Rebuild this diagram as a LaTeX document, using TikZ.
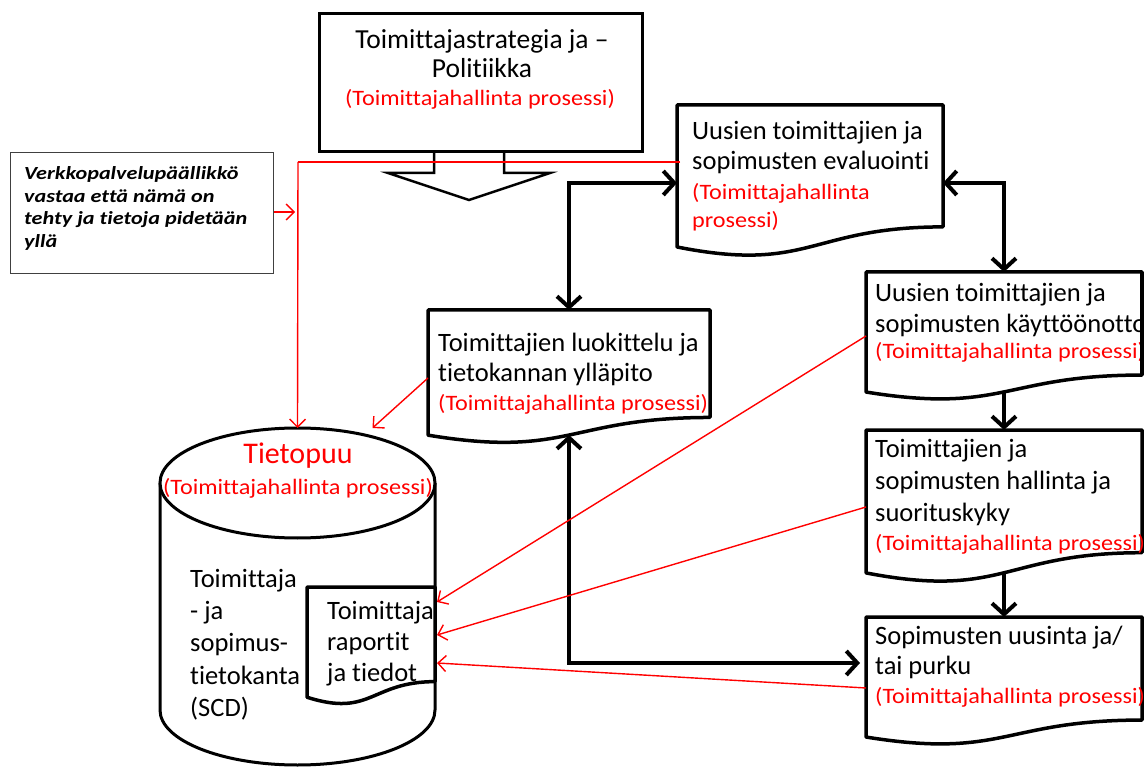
\documentclass[tikz,border=0pt]{standalone}
\usepackage{fontspec}
\setmainfont{Carlito}[Ligatures=CommonOff]
\newfontfamily\redfont{Carlito}[FakeStretch=1.1,Ligatures=CommonOff]
\newfontfamily\notefont{Carlito}[FakeStretch=1.2,Ligatures=CommonOff]
\usetikzlibrary{arrows.meta,calc,shapes.geometric}

% document shape (flowchart "document"): name, left, top, right, bottom of full height
\newcommand{\docbox}[5]{%
  \pgfmathsetmacro\dH{#5-#3}%
  \pgfmathsetmacro\yR{#3+0.802*\dH}%
  \pgfmathsetmacro\yL{#3+0.934*\dH}%
  \pgfmathsetmacro\yC{#3+1.108*\dH}%
  \pgfmathsetmacro\xM{(#2+#4)/2}%
  \pgfmathsetmacro\nW{#4-#2}%
  \pgfmathsetmacro\nH{0.933*\dH}%
  \draw[docline] (#2,#3) -- (#4,#3) -- (#4,\yR) .. controls (\xM,\yR) and (\xM,\yC) .. (#2,\yL) -- cycle;
  \node[anchor=north west, inner sep=0, outer sep=0, minimum width=\nW pt, minimum height=\nH pt] (#1) at (#2,#3) {};
}

\begin{document}
\begin{tikzpicture}[x=1pt,y=-1pt,
  docline/.style={draw, line width=3.5pt, line join=round, fill=white},
  blk/.style={line width=4pt, -{Straight Barb[length=11pt,width=24pt]}},
  blkboth/.style={line width=4pt, {Straight Barb[length=11pt,width=24pt]}-{Straight Barb[length=11pt,width=24pt]}},
  redln/.style={draw=red, line width=1.4pt},
  redarr/.style={redln, -{Straight Barb[length=8pt,width=16pt]}},
  bl/.style={font=\fontsize{26.5}{30}\selectfont, align=left, inner sep=0, anchor=north west},
  rd/.style={text=red, font=\redfont\fontsize{22}{28}\selectfont, align=left, inner sep=0, anchor=north west},
]
\useasboundingbox (0,0) rectangle (1144,767);
\clip (0,0) rectangle (1144,767);

% hollow down arrow under the strategy box
\draw[line width=2.5pt, line join=miter, fill=white]
  (434,148) -- (434,173) -- (388,173) -- (469,200) -- (550,173) -- (504,173) -- (504,148);

% strategy box
\node[draw, line width=3pt, fill=white, anchor=north west, inner sep=0,
      minimum width=323pt, minimum height=138pt] (strat) at (318,12) {};
\node[font=\fontsize{27.5}{29.5}\selectfont, align=center, inner sep=0, anchor=north] (strat-t)
  at (482,29) {Toimittajastrategia ja –\\Politiikka};
\node[rd, anchor=north] (strat-r) at (480,89) {(Toimittajahallinta prosessi)};

% responsibility note
\node[draw=black!75, line width=1pt, anchor=north west, inner sep=0,
      minimum width=263pt, minimum height=121pt] (note) at (10,152) {};
\node[font=\notefont\fontsize{18.5}{22.5}\selectfont\bfseries\itshape, align=left, inner sep=0, anchor=north west]
  (note-t) at (24,166.7) {Verkkopalvelupäällikkö\\vastaa että nämä on\\tehty ja tietoja pidetään\\yllä};

% process documents
\docbox{ev}{677}{105}{943}{257}
\node[bl] (ev-t) at (692,121) {Uusien toimittajien ja\\sopimusten evaluointi};
\node[rd] (ev-r) at (692,183.5) {(Toimittajahallinta\\prosessi)};

\docbox{lu}{428}{310}{710}{444}
\node[bl] (lu-t) at (438,333) {Toimittajien luokittelu ja\\tietokannan ylläpito};
\node[rd] (lu-r) at (438,394.5) {(Toimittajahallinta prosessi)};

\docbox{kay}{866}{272}{1142}{400.5}
\node[bl, font=\fontsize{26.5}{31}\selectfont] (kay-t) at (875,283) {Uusien toimittajien ja\\sopimusten käyttöönotto};
\node[rd] (kay-r) at (875,342.5) {(Toimittajahallinta prosessi)};
\draw[line width=3.5pt] (1142,272) -- (1142,375);

\docbox{hall}{866}{430}{1142}{583}
\node[bl, font=\fontsize{26.5}{32}\selectfont] (hall-t) at (875,439) {Toimittajien ja\\sopimusten hallinta ja\\suorituskyky};
\node[rd] (hall-r) at (875,534.5) {(Toimittajahallinta prosessi)};

\docbox{uus}{866}{617}{1142}{745.5}
\node[bl] (uus-t) at (875,626) {Sopimusten uusinta ja/\\tai purku};
\node[rd] (uus-r) at (875,687.5) {(Toimittajahallinta prosessi)};

% database cylinder
\draw[line width=3pt, fill=white] (160,483) -- (160,710)
  arc[start angle=180, end angle=360, x radius=137.5pt, y radius=55pt] -- (435,483);
\node[draw, ellipse, line width=3pt, fill=white, inner sep=0, outer sep=0,
      minimum width=275pt, minimum height=110pt] (db) at (297.5,483) {};
\node[text=red, font=\fontsize{30}{36}\selectfont, inner sep=0] (db-t) at (298,456) {Tietopuu};
\node[rd, anchor=center] (db-r) at (298,488) {(Toimittajahallinta prosessi)};
\node[bl, font=\fontsize{26.5}{32.25}\selectfont] (db-l) at (190,569) {Toimittaja\\- ja\\sopimus-\\tietokanta\\(SCD)};

\docbox{rep}{307}{587}{435}{705}
\node[bl, font=\fontsize{26.5}{31}\selectfont] (rep-t) at (327,601) {Toimittaja\\raportit\\ja tiedot};

% process flow
\draw[blkboth] ($(ev.north west)+(0,78)$) -| (lu.north);
\draw[blkboth] ($(ev.north east)+(0,78)$) -| (kay.north);
\draw[blk] (kay.south) -- (hall.north);
\draw[blk] (hall.south) -- (uus.north);
\draw[blkboth] (lu.south) |- ($(uus.north west)+(-6,46)$);

% information into the database
\coordinate (j) at (298,162);
\draw[redln] ($(ev.north west)+(3,57)$) -- (j);
\draw[redarr] (j) -- (db.north);
\draw[redarr] ($(note.north east)+(0,60)$) -- ($(j |- note.north east)+(-3,60)$);
\draw[redarr] ($(lu.north west)+(0,68)$) -- ($(db.north)+(75,0)$);
\draw[redarr] ($(kay.north west)+(0,64)$) -- ($(rep.north east)+(2,15)$);
\draw[redarr] ($(hall.north west)+(0,77)$) -- ($(rep.north east)+(2,48)$);
\draw[redarr] ($(uus.north west)+(0,71)$) -- ($(rep.north east)+(2,76)$);
\end{tikzpicture}
\end{document}
